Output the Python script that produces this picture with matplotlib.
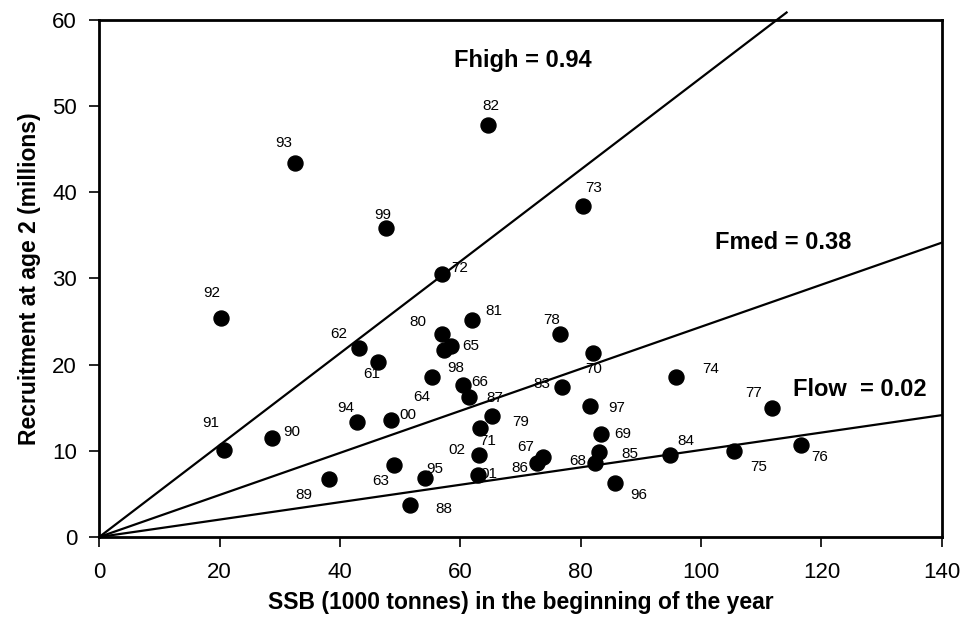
import matplotlib
matplotlib.use("Agg")
import matplotlib.pyplot as plt
import numpy as np

plt.rcParams['font.family'] = ['Liberation Sans', 'DejaVu Sans']

years = ['61','62','63','64','65','66','67','68','69','70',
         '71','72','73','74','75','76','77','78','79','80',
         '81','82','83','84','85','86','87','88','89','90',
         '91','92','93','94','95','96','97','98','99','00',
         '01','02']
ssb = [46.3, 43.2, 49.0, 55.3, 58.4, 60.5, 73.8, 82.4, 83.3, 82.0,
       63.2, 57.0, 80.3, 95.8, 105.5, 116.6, 111.7, 76.5, 65.2, 56.9,
       62.0, 64.6, 76.9, 94.8, 83.1, 72.8, 61.5, 51.6, 38.1, 28.7,
       20.7, 20.2, 32.6, 42.8, 54.1, 85.7, 81.6, 57.3, 47.6, 48.4,
       62.9, 63.1]
recruits = [20.3, 21.9, 8.3, 18.6, 22.2, 17.6, 9.3, 8.6, 12.0, 21.4,
            12.6, 30.5, 38.4, 18.6, 10.0, 10.7, 15.0, 23.6, 14.0, 23.5,
            25.2, 47.8, 17.4, 9.5, 9.9, 8.6, 16.2, 3.7, 6.7, 11.5,
            10.1, 25.4, 43.4, 13.4, 6.8, 6.3, 15.2, 21.7, 35.9, 13.6,
            7.2, 9.5]

ref_names = ['Fhigh = 0.94', 'Fmed = 0.38', 'Flow  = 0.02']
ref_slopes = [0.533, 0.244, 0.101]

# label offsets in pixels (dx right, dy down) -- layout only
label_off = {
    '61': (-6, 12), '62': (-21, -14), '63': (-13, 16), '64': (-10, 20),
    '65': (20, 0), '66': (16, -3), '67': (-18, -10), '68': (-17, -2),
    '69': (22, 0), '70': (1, 16), '71': (8, 13), '72': (17, -6),
    '73': (11, -18), '74': (35, -8), '75': (24, 16), '76': (19, 12),
    '77': (-18, -15), '78': (-8, -14), '79': (29, 6), '80': (-24, -12),
    '81': (21, -9), '82': (3, -19), '83': (-20, -3), '84': (16, -14),
    '85': (30, 2), '86': (-18, 5), '87': (25, 1), '88': (34, 4),
    '89': (-25, 16), '90': (20, -6), '91': (-13, -27), '92': (-9, -25),
    '93': (-12, -20), '94': (-11, -14), '95': (10, -9), '96': (24, 12),
    '97': (26, 2), '98': (12, 18), '99': (-3, -13), '00': (17, -5),
    '01': (11, -1), '02': (-22, -5),
}
line_xend = [114.2, 140, 140]
ref_text_pos = [(70.4, 55.3), (113.6, 34.2), (126.3, 17.1)]

fig = plt.figure(figsize=(9.73, 6.26), dpi=100)
ax = fig.add_axes([0.102, 0.1422, 0.866, 0.8259])

for s, xe in zip(ref_slopes, line_xend):
    xs = np.array([0, xe])
    ax.plot(xs, s * xs, color='black', lw=1.6, clip_on=False, zorder=2)

ax.plot(ssb, recruits, 'o', color='black', markersize=10.8, zorder=3, clip_on=False)

for yr, x, y in zip(years, ssb, recruits):
    dx, dy = label_off[yr]
    ax.annotate(yr, (x, y), xytext=(dx, -dy), textcoords='offset pixels',
                ha='center', va='center', fontsize=11, zorder=4)

for name, (tx, ty) in zip(ref_names, ref_text_pos):
    ax.text(tx, ty, name, ha='center', va='center', fontsize=17,
            fontweight='bold', zorder=4)

ax.set_xlim(0, 140)
ax.set_ylim(0, 60)
ax.set_xticks(np.arange(0, 141, 20))
ax.set_yticks(np.arange(0, 61, 10))
ax.tick_params(axis='both', direction='out', length=7, width=1.2,
               labelsize=16, colors='black')
ax.tick_params(axis='x', pad=11)
ax.tick_params(axis='y', pad=9)
for sp in ax.spines.values():
    sp.set_linewidth(2)
    sp.set_color('black')

ax.set_xlabel('SSB (1000 tonnes) in the beginning of the year',
              fontsize=16.5, fontweight='bold', labelpad=6)
ax.set_ylabel('Recruitment at age 2 (millions)', fontsize=16.5,
              fontweight='bold', labelpad=8)

fig.savefig('out.png', dpi=100)
